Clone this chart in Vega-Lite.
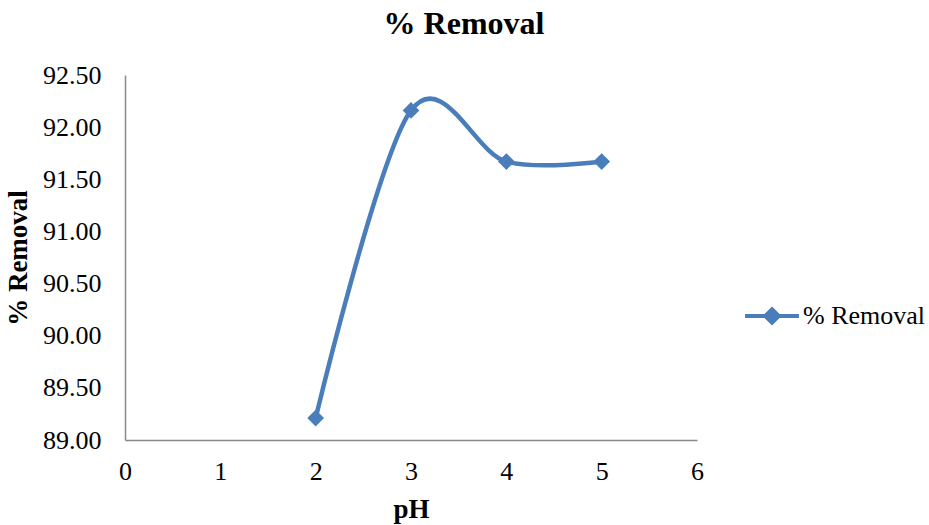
{
  "$schema": "https://vega.github.io/schema/vega-lite/v6.json",
  "width": 572,
  "height": 365,
  "autosize": "none",
  "padding": {"left": 125, "top": 75, "right": 232, "bottom": 85},
  "background": "white",
  "config": {
    "view": {"stroke": null},
    "font": "Liberation Serif",
    "axis": {"labelFont": "Liberation Serif", "titleFont": "Liberation Serif"},
    "legend": {"labelFont": "Liberation Serif"}
  },
  "title": {
    "text": "% Removal",
    "font": "Liberation Serif",
    "fontSize": 32,
    "fontWeight": "bold",
    "color": "black",
    "anchor": "middle",
    "dx": 53,
    "offset": 21
  },
  "data": {
    "values": [
      {"pH": 2, "removal": 89.21, "series": "% Removal"},
      {"pH": 3, "removal": 92.16, "series": "% Removal"},
      {"pH": 4, "removal": 91.67, "series": "% Removal"},
      {"pH": 5, "removal": 91.67, "series": "% Removal"}
    ]
  },
  "encoding": {
    "x": {
      "field": "pH",
      "type": "quantitative",
      "scale": {"domain": [0, 6], "nice": false},
      "axis": {
        "title": "pH",
        "values": [0, 1, 2, 3, 4, 5, 6],
        "grid": false,
        "ticks": false,
        "labelFlush": false,
        "domainColor": "#898989",
        "domainWidth": 1.5,
        "labelFontSize": 26,
        "labelColor": "black",
        "labelPadding": 18,
        "titleFontSize": 27,
        "titleFontWeight": "bold",
        "titleColor": "black",
        "titlePadding": 12
      }
    },
    "y": {
      "field": "removal",
      "type": "quantitative",
      "scale": {"domain": [89, 92.5], "nice": false, "zero": false},
      "axis": {
        "title": "% Removal",
        "values": [89, 89.5, 90, 90.5, 91, 91.5, 92, 92.5],
        "format": ".2f",
        "grid": false,
        "ticks": false,
        "labelFlush": false,
        "domainColor": "#898989",
        "domainWidth": 1.5,
        "labelFontSize": 26,
        "labelColor": "black",
        "labelPadding": 24,
        "titleFontSize": 27,
        "titleFontWeight": "bold",
        "titleColor": "black",
        "titlePadding": 10
      }
    },
    "color": {
      "field": "series",
      "type": "nominal",
      "scale": {"range": ["#4a7ebb"]},
      "legend": {
        "title": null,
        "orient": "none",
        "legendX": 618,
        "legendY": 212,
        "symbolType": "M-1,0H1M0,-0.25L0.25,0L0,0.25L-0.25,0Z",
        "symbolSize": 2900,
        "symbolStrokeWidth": 4,
        "symbolFillColor": "#4a7ebb",
        "symbolStrokeColor": "#4a7ebb",
        "symbolOpacity": 1,
        "labelFontSize": 26,
        "labelColor": "black",
        "labelOffset": 2
      }
    }
  },
  "layer": [
    {
      "mark": {"type": "line", "interpolate": "cardinal", "strokeWidth": 4.5}
    },
    {
      "mark": {"type": "point", "shape": "diamond", "filled": true, "size": 280, "opacity": 1}
    }
  ]
}
